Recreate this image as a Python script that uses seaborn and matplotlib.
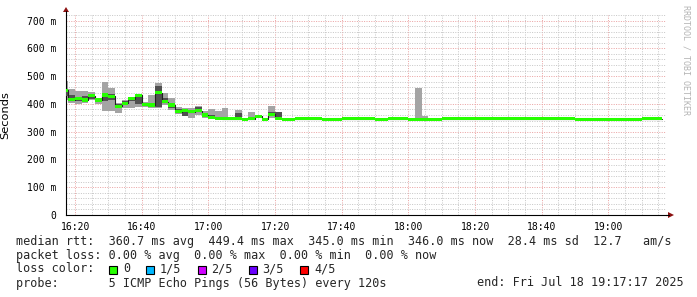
import numpy as np
import matplotlib
matplotlib.use("Agg")
import matplotlib.pyplot as plt
import seaborn as sns
from matplotlib.patches import Polygon, Rectangle
from matplotlib.lines import Line2D

# ---------------- data ----------------
# 120 s steps, each value belongs to the step ending at (16:18 + 2k min)
median_ms = [449.4, 415, 418, 414, 429, 414, 432, 427, 391, 403,
             418, 431, 398, 396, 440, 408, 396, 372, 376, 371,
             376, 360, 352, 348, 347, 346, 346, 345, 347, 355,
             345, 362, 348, 345, 345, 346, 346, 346, 346, 345,
             345, 345, 346, 346, 346, 346, 346, 345, 345, 346,
             346, 346, 345, 345, 345, 345, 345, 346, 346, 346,
             346, 346, 346, 346, 346, 346, 346, 346, 346, 346,
             346, 346, 346, 346, 346, 346, 346, 345, 345, 345,
             345, 345, 345, 345, 345, 345, 345, 346, 346, 346]

smoke_outer_lo = [414, 403, 400, 403, 413, 400, 375, 375, 366, 384,
                  384, 388, 388, 386, 385, 396, 378, 363, 355, 348,
                  360, 348, 346, 346, 346, 345, 345, 345, 346, 350,
                  345, 350, 345, 345, 345, 346, 346, 346, 346, 345,
                  345, 345, 346, 346, 346, 346, 346, 345, 345, 346,
                  346, 346, 345, 345, 345, 345, 345, 346, 346, 346,
                  346, 346, 346, 346, 346, 346, 346, 346, 346, 346,
                  346, 346, 346, 346, 346, 346, 346, 345, 345, 345,
                  345, 345, 345, 345, 345, 345, 345, 346, 346, 346]

smoke_inner_lo = [430, 412, 410, 411, 418, 409, 411, 414, 384, 396,
                  412, 400, 393, 391, 390, 404, 385, 368, 358, 366,
                  372, 357, 348, 347, 347, 346, 346, 345, 347, 352,
                  345, 355, 346, 345, 345, 346, 346, 346, 346, 345,
                  345, 345, 346, 346, 346, 346, 346, 345, 345, 346,
                  346, 346, 345, 345, 345, 345, 345, 346, 346, 346,
                  346, 346, 346, 346, 346, 346, 346, 346, 346, 346,
                  346, 346, 346, 346, 346, 346, 346, 345, 345, 345,
                  345, 345, 345, 345, 345, 345, 345, 346, 346, 346]

smoke_inner_hi = [452, 432, 425, 428, 433, 418, 437, 435, 399, 410,
                  420, 433, 402, 400, 465, 420, 402, 380, 378, 378,
                  390, 366, 360, 352, 350, 347, 366, 346, 352, 357,
                  346, 370, 370, 346, 346, 346, 346, 346, 346, 345,
                  345, 345, 346, 346, 346, 346, 346, 345, 345, 346,
                  346, 346, 345, 346, 345, 345, 345, 346, 346, 346,
                  346, 346, 346, 346, 346, 346, 346, 346, 346, 346,
                  346, 346, 346, 346, 346, 346, 346, 345, 345, 345,
                  345, 345, 345, 345, 345, 345, 345, 346, 346, 346]

smoke_outer_hi = [482, 455, 445, 446, 442, 420, 478, 456, 402, 414,
                  420, 436, 406, 432, 475, 438, 420, 390, 384, 384,
                  392, 376, 380, 375, 384, 350, 378, 350, 372, 358,
                  348, 394, 372, 347, 347, 346, 346, 346, 346, 345,
                  345, 345, 346, 346, 346, 346, 346, 345, 345, 346,
                  346, 346, 345, 458, 356, 345, 345, 346, 346, 346,
                  346, 346, 346, 346, 346, 346, 346, 346, 346, 346,
                  346, 346, 346, 346, 346, 346, 346, 345, 345, 345,
                  345, 345, 345, 345, 345, 345, 345, 346, 346, 346]

# time axis: minutes after 16:00
first_step_start = 16          # step (16:16,16:18]
step_minutes = 2
view_start = 17 + 17 / 60      # 16:17:17
view_end = 197 + 17 / 60       # 19:17:17

x_tick_pos = [20, 40, 60, 80, 100, 120, 140, 160, 180]
x_tick_labels = ["16:20", "16:40", "17:00", "17:20", "17:40",
                 "18:00", "18:20", "18:40", "19:00"]
y_tick_pos = [0, 100, 200, 300, 400, 500, 600, 700]
y_tick_labels = ["0", "100 m", "200 m", "300 m", "400 m",
                 "500 m", "600 m", "700 m"]

legend_line1 = "median rtt:  360.7 ms avg  449.4 ms max  345.0 ms min  346.0 ms now  28.4 ms sd  12.7   am/s"
legend_line2 = "packet loss: 0.00 % avg  0.00 % max  0.00 % min  0.00 % now"
loss_labels = ["0", "1/5", "2/5", "3/5", "4/5"]
loss_colors = ["#26ff00", "#00b8ff", "#d000ff", "#6a00ff", "#ff0000"]
probe_text = "probe:       5 ICMP Echo Pings (56 Bytes) every 120s"
end_text = "end: Fri Jul 18 19:17:17 2025"

# ---------------- style ----------------
sns.set_theme(style="white")
plt.rcParams["font.family"] = ["DejaVu Sans"]
MONO = "DejaVu Sans Mono"

W, H = 697, 297
fig = plt.figure(figsize=(W / 100, H / 100), dpi=100)
fig.patch.set_facecolor("white")
L, R, T, B = 66, 666, 15, 215
ax = fig.add_axes([L / W, (H - B) / H, (R - L) / W, (B - T) / H])
ax.set_facecolor("white")

n = len(median_ms)
edges = first_step_start + step_minutes * np.arange(n + 1)


def ext(v):
    v = np.asarray(v, dtype=float)
    return np.append(v, v[-1])


# smoke
ax.fill_between(edges, ext(smoke_outer_lo), ext(smoke_outer_hi), step="post",
                color="#a4a4a4", lw=0, zorder=2)
ax.fill_between(edges, ext(smoke_inner_lo), ext(smoke_inner_hi), step="post",
                color="#505050", lw=0, zorder=3)
# thin median line
sns.lineplot(x=edges, y=ext(median_ms), drawstyle="steps-post", estimator=None,
             sort=False, color="#202020", lw=0.8, ax=ax, zorder=4)
# loss colored median bar
med = ext(median_ms)
ax.fill_between(edges, med - 5.5, med + 5.5, step="post",
                color=loss_colors[0], lw=0, zorder=5)

ax.set_xlim(view_start, view_end)
ax.set_ylim(0, 720)

# grid
ax.set_xticks(x_tick_pos)
ax.set_xticklabels(x_tick_labels, fontfamily=MONO, fontsize=7)
ax.set_xticks(np.arange(20, 200, 5), minor=True)
ax.set_yticks(y_tick_pos)
ax.set_yticklabels(y_tick_labels, fontfamily=MONO, fontsize=7)
ax.set_yticks(np.arange(0, 721, 20), minor=True)
ax.set_axisbelow(True)
ax.grid(which="minor", color="#c8c8c8", lw=0.72, linestyle=(0, (1, 1.4)))
ax.grid(which="major", color="#eba5a5", lw=0.72, linestyle=(0, (1, 1.4)))
ax.tick_params(axis="both", which="major", length=2, width=0.72, color="black",
               pad=3, labelcolor="black")
ax.tick_params(axis="both", which="minor", length=0)
ax.tick_params(axis="y", pad=5)
for s in ["top", "right"]:
    ax.spines[s].set_visible(False)
for s in ["left", "bottom"]:
    ax.spines[s].set_color("black")
    ax.spines[s].set_linewidth(0.8)

ax.set_ylabel("Seconds", fontsize=8.2, labelpad=6, color="black")
ax.yaxis.set_label_coords(-(L - 10) / (R - L), 0.5)

# axis arrows (display pixels)
ybase = H - B
fig.add_artist(Line2D([R, 669], [ybase, ybase], transform=None, color="black", lw=0.8))
fig.add_artist(Polygon([[668, ybase + 3], [668, ybase - 3], [674, ybase]],
                       closed=True, transform=None, color="#8b1010", lw=0))
fig.add_artist(Line2D([L, L], [H - T, H - 11], transform=None, color="black", lw=0.8))
fig.add_artist(Polygon([[L - 3, H - 12], [L + 3, H - 12], [L, H - 7]],
                       closed=True, transform=None, color="#8b1010", lw=0))

# watermark
fig.text(686 / W, 1 - 5 / H, "RRDTOOL / TOBI OETIKER", rotation=270,
         fontfamily=MONO, fontsize=6, color="#b4b4b4", ha="center", va="top")

# legend texts
def fy(y):
    return 1 - y / H

fs = 8.5
fig.text(16 / W, fy(241), legend_line1, fontfamily=MONO, fontsize=fs, va="center")
fig.text(16 / W, fy(255), legend_line2, fontfamily=MONO, fontsize=fs, va="center")
fig.text(16 / W, fy(269), "loss color:", fontfamily=MONO, fontsize=fs, va="center")
box_x = [108.5, 146, 197.5, 248.5, 300]
lab_x = [123, 160, 211.5, 262.5, 314]
for bx, lx, c, lab in zip(box_x, lab_x, loss_colors, loss_labels):
    fig.add_artist(Rectangle((bx, H - 274), 8, 8, transform=None,
                             facecolor=c, edgecolor="black", lw=0.8))
    fig.text(lx / W, fy(269), lab, fontfamily=MONO, fontsize=fs, va="center")
fig.text(16 / W, fy(283), probe_text, fontfamily=MONO, fontsize=fs, va="center")
fig.text(684 / W, fy(283), end_text, fontfamily=MONO, fontsize=fs, va="center",
         ha="right")

fig.savefig("out.png", dpi=100, facecolor="white")
